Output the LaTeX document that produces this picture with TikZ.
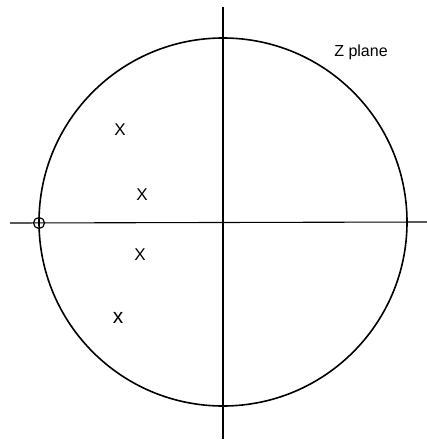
\documentclass[tikz,border=0pt]{standalone}
\usepackage{fontspec}
\setmainfont{Liberation Sans}
\usetikzlibrary{positioning}

\begin{document}
\begin{tikzpicture}[x=1pt, y=-1pt,
    axis/.style={line width=1.1pt},
    unitc/.style={line width=1.6pt},
    pole/.style={font=\fontsize{17}{17}\selectfont, inner sep=0pt},
    zero/.style={draw, circle, line width=1.2pt, minimum size=11pt, inner sep=0pt},
    lbl/.style={font=\fontsize{16}{16}\selectfont, inner sep=0pt},
]
\useasboundingbox (0,0) rectangle (427,441);

% axes
\coordinate (o) at (223,222);
\coordinate (xl) at (10,223);
\coordinate (xr) at (427,222);
\coordinate (yt) at (223,7);
\coordinate (yb) at (223,439);
\draw[axis] (xl) -- (xr);
\draw[axis] (yt) -- (yb);

% unit circle
\draw[unitc] (o) circle[radius=184];

% zero on the circle
\node[zero] (z1) at (39,223) {};

% poles
\node[pole] (p1) at (120,130) {X};
\node[pole] (p2) at (142,195) {X};
\node[pole] (p3) at (140,255) {X};
\node[pole, font=\fontsize{21}{21}\selectfont] (p4) at (118,318) {x};

\node[lbl] (plane) at (361,52) {Z plane};

\end{tikzpicture}
\end{document}
